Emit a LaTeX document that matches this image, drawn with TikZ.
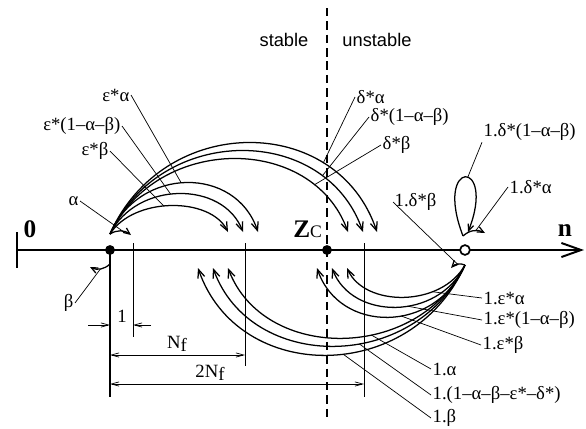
\documentclass[tikz,border=0pt]{standalone}
\usepackage{fontspec}
\setmainfont{Liberation Serif}
\newfontfamily\sansfont{Liberation Sans}
\usetikzlibrary{arrows.meta}

\begin{document}
\begin{tikzpicture}[x=0.025cm, y=-0.025cm,
    arc/.style={line width=0.9pt, -{Straight Barb[length=6pt,width=5pt]}},
    small/.style={line width=0.9pt, -{Straight Barb[length=4.5pt,width=4pt]}},
    leader/.style={line width=0.5pt},
    dimline/.style={line width=0.5pt},
    dimtip/.style={-{Straight Barb[length=5.5pt,width=3pt]}},
    dimboth/.style={{Straight Barb[length=5.5pt,width=3pt]}-{Straight Barb[length=5.5pt,width=3pt]}},
    lbl/.style={inner sep=1pt, font=\fontsize{13.3}{15}\selectfont},
    big/.style={inner sep=0pt, font=\fontsize{18}{20}\selectfont\bfseries},
    side/.style={font=\sansfont\fontsize{13}{15}\selectfont}]
  \useasboundingbox (0,0) rectangle (586,428);

  % stable / unstable border
  \coordinate (borderT) at (327,8);
  \coordinate (borderB) at (327,418);
  \draw[line width=1pt, dash pattern=on 6pt off 3.5pt] (borderT) -- (borderB);
  \node[side] (stab) at (284,40) {stable};
  \node[side] (unst) at (377,40) {unstable};

  % axis
  \coordinate (ax0) at (17,250);
  \coordinate (axN) at (584,250);
  \coordinate (tickT) at (17,232);
  \coordinate (tickB) at (17,268);
  \draw[line width=1.4pt] (tickT) -- (tickB);
  \draw[line width=1.4pt, -{Straight Barb[length=14pt,width=10pt]}] (ax0) -- (axN);
  \node[big, anchor=base] (zero) at (30,237) {0};
  \node[big, anchor=base] (en) at (565,236) {n};
  \node[big, anchor=base west] (zc) at (293,237) {Z\fontsize{12.5}{14}\mdseries\selectfont C};

  % vertical marks
  \coordinate (vAtop) at (110,250);  \coordinate (vAbot) at (110,397);
  \coordinate (vBtop) at (133,243);  \coordinate (vBbot) at (133,337);
  \coordinate (vCtop) at (245,243);  \coordinate (vCbot) at (245,366);
  \coordinate (vDtop) at (364,243);  \coordinate (vDbot) at (364,397);
  \draw[line width=1pt] (vAtop) -- (vAbot);
  \draw[line width=0.6pt] (vBtop) -- (vBbot);
  \draw[line width=0.6pt] (vCtop) -- (vCbot);
  \draw[line width=0.6pt] (vDtop) -- (vDbot);

  % dimensions
  \coordinate (dimOneL) at (88,325);
  \coordinate (dimOneR) at (151,325);
  \draw[dimline, dimtip] (dimOneL) -- (dimOneL -| vAtop);
  \draw[dimline, dimtip] (dimOneR) -- (dimOneR -| vBtop);
  \node[lbl] (one) at (122,316) {1};
  \coordinate (dimNf) at (110,355);
  \draw[dimline, dimboth] (dimNf) -- (dimNf -| vCtop);
  \node[lbl] (nf) at (177,344) {N\raisebox{-0.35ex}{f}};
  \coordinate (dimTwoNf) at (110,384);
  \draw[dimline, dimboth] (dimTwoNf) -- (dimTwoNf -| vDtop);
  \node[lbl] (twonf) at (210,373) {2N\raisebox{-0.35ex}{f}};

  % states
  \node[circle, fill, inner sep=0pt, minimum size=7pt] (dotA) at (110,250) {};
  \node[circle, fill, inner sep=0pt, minimum size=7pt] (dotZ) at (327,250) {};
  \node[circle, draw, fill=white, line width=1.2pt, inner sep=0pt, minimum size=7pt] (dotO) at (465,250) {};

  % transitions from the left state
  \coordinate (orgL) at (110,234);
  \foreach \i/\ex/\ty/\p in {1/228/206/0.45, 2/243/194/0.45, 3/258/183/0.47,
                             4/348/159/0.8, 5/363/151/0.78, 6/377/143/0.74}{
    \pgfmathsetmacro\ca{110+0.2*(\ex-110)}
    \pgfmathsetmacro\cb{\ex-0.15*(\ex-110)}
    \pgfmathsetmacro\cy{234-4/3*(234-\ty)}
    \coordinate (up\i) at (\ex,232);
    \draw[arc] (orgL) .. controls (\ca,\cy) and (\cb,\cy) .. node[coordinate, pos=\p] (mu\i) {} (up\i);
  }
  \coordinate (aT) at (131,235);
  \draw[small] (orgL) to[bend left=35] node[coordinate, pos=0.6] (am) {} (aT);
  \coordinate (bS) at (110,264);
  \coordinate (bT) at (90,267);
  \draw[small] (bS) to[bend left=35] node[coordinate, pos=0.5] (bm) {} (bT);

  % transitions from the right state
  \coordinate (orgR) at (465,265);
  \foreach \i/\ex/\by/\p in {1/347/297/0.3, 2/332/307/0.43, 3/317/317/0.43,
                             4/228/338/0.4, 5/213/346/0.42, 6/198/355/0.45}{
    \pgfmathsetmacro\ca{465-0.2*(465-\ex)}
    \pgfmathsetmacro\cb{\ex+0.15*(465-\ex)}
    \pgfmathsetmacro\cy{266+4/3*(\by-266)}
    \coordinate (dn\i) at (\ex,268);
    \draw[arc] (orgR) .. controls (\ca,\cy) and (\cb,\cy) .. node[coordinate, pos=\p] (md\i) {} (dn\i);
  }
  \coordinate (loopB) at (463,236);
  \coordinate (loopE) at (468,232);
  \draw[small] (loopB) .. controls (433,158) and (497,158) .. node[coordinate, pos=0.55] (lt) {} (loopE);
  \coordinate (daT) at (485,233);
  \draw[small] (loopB) to[bend left=35] node[coordinate, pos=0.6] (dam) {} (daT);
  \coordinate (dbT) at (451,268);
  \draw[small] (orgR) to[bend right=35] node[coordinate, pos=0.5] (dbm) {} (dbT);

  % labels, left side
  \node[lbl, anchor=east] (lEa) at (131,95) {ε*α};
  \node[lbl, anchor=east] (lEab) at (122,126) {ε*(1–α–β)};
  \node[lbl, anchor=east] (lEb) at (110,151) {ε*β};
  \node[lbl, anchor=east] (lA) at (80,201) {α};
  \node[lbl, anchor=east] (lB) at (75,303) {β};
  \draw[leader] (lEa.east) -- (mu3);
  \draw[leader] (lEab.east) -- (mu2);
  \draw[leader] (lEb.east) -- (mu1);
  \draw[leader] (lA.east) -- (am);
  \draw[leader] (lB.east) -- (bm);

  % labels, upper right
  \node[lbl, anchor=west] (lDa) at (355,97) {δ*α};
  \node[lbl, anchor=west] (lDab) at (369,117) {δ*(1–α–β)};
  \node[lbl, anchor=west] (lDb) at (381,145) {δ*β};
  \node[lbl, anchor=west] (lODab) at (482,132) {1.δ*(1–α–β)};
  \node[lbl, anchor=west] (lODa) at (508,187) {1.δ*α};
  \node[lbl, anchor=west] (lODb) at (393,202) {1.δ*β};
  \draw[leader] (lDa.west) -- (mu6);
  \draw[leader] (lDab.west) -- (mu5);
  \draw[leader] (lDb.west) -- (mu4);
  \draw[leader] (lODab.south west) -- (lt);
  \draw[leader] (lODa.west) -- (dam);
  \draw[leader] (lODb.west) -- (dbm);

  % labels, lower right
  \node[lbl, anchor=west] (lOEa) at (482,298) {1.ε*α};
  \node[lbl, anchor=west] (lOEab) at (482,320) {1.ε*(1–α–β)};
  \node[lbl, anchor=west] (lOEb) at (481,345) {1.ε*β};
  \node[lbl, anchor=west] (lOA) at (431,369) {1.α};
  \node[lbl, anchor=west] (lOR) at (431,395) {1.(1–α–β–ε*–δ*)};
  \node[lbl, anchor=west] (lOB) at (431,418) {1.β};
  \draw[leader] (lOEa.west) -- (md1);
  \draw[leader] (lOEab.west) -- (md2);
  \draw[leader] (lOEb.west) -- (md3);
  \draw[leader] (lOA.west) -- (md4);
  \draw[leader] (lOR.west) -- (md5);
  \draw[leader] (lOB.west) -- (md6);
\end{tikzpicture}
\end{document}
